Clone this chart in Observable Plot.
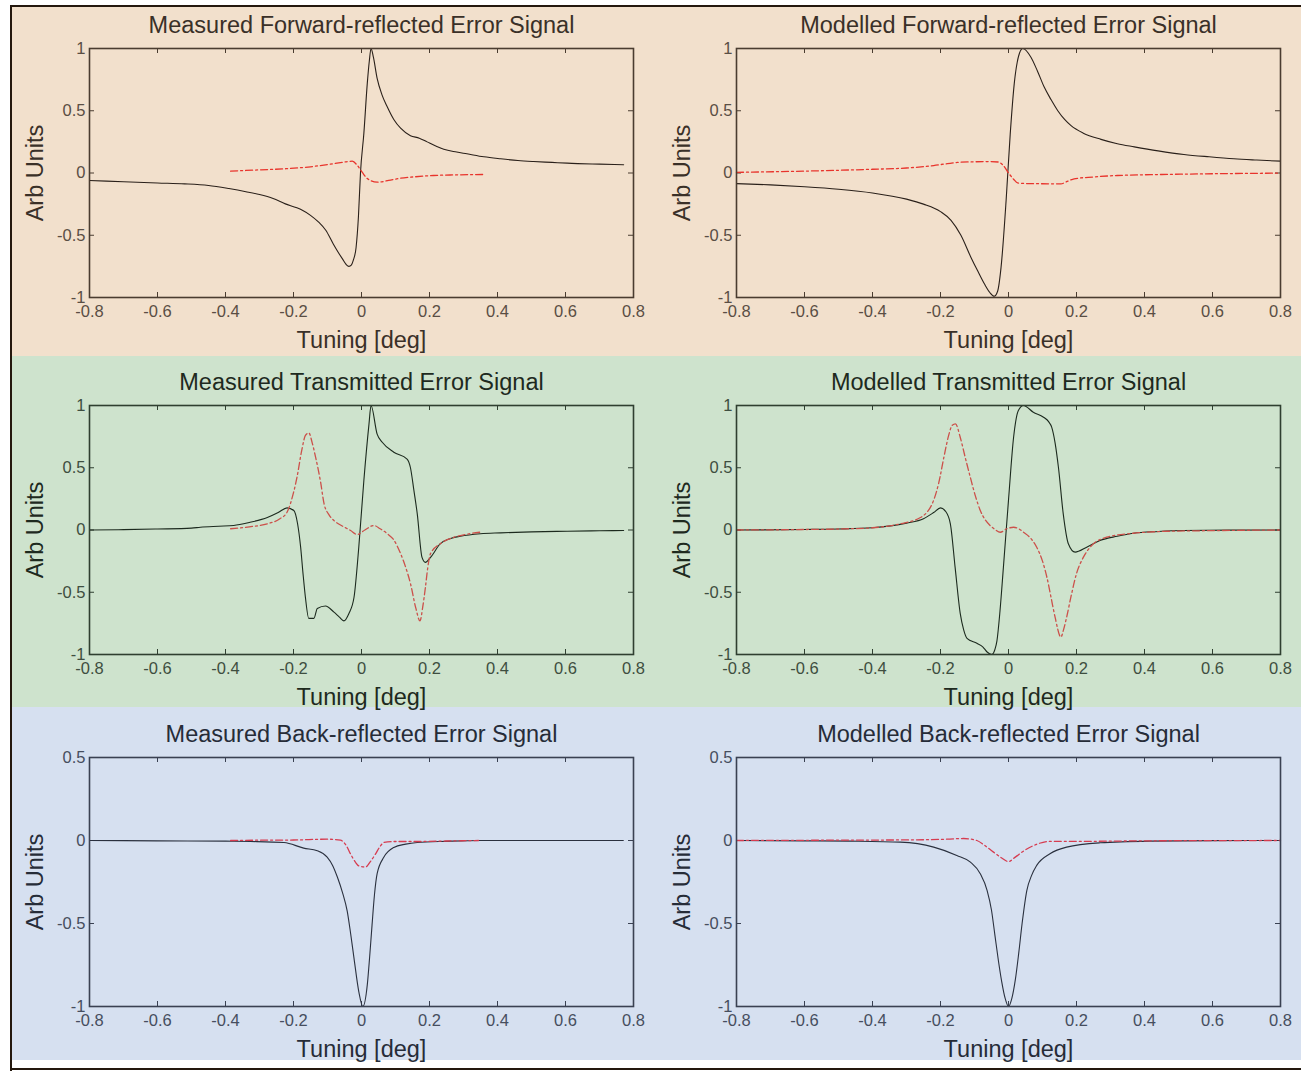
<!DOCTYPE html>
<html><head><meta charset="utf-8">
<script src="https://cdn.jsdelivr.net/npm/d3@7"></script>
<script src="https://cdn.jsdelivr.net/npm/@observablehq/plot@0.6"></script>
<style>
body{margin:0;background:#fff;}
#fig{position:relative;width:1301px;height:1072px;overflow:hidden;background:#fff;font-family:"Liberation Sans",Arial,sans-serif;}
.band{position:absolute;left:12px;right:0;}
.line{position:absolute;background:#24180e;}
.panel{position:absolute;}
</style></head><body><div id="fig"></div>
<script>
// ---- tick labels ----
const xTicks = [-0.8, -0.6, -0.4, -0.2, 0, 0.2, 0.4, 0.6, 0.8];
const yTicksFull = [-1, -0.5, 0, 0.5, 1];
const yTicksBack = [-1, -0.5, 0, 0.5];

// ---- titles ----
const titles = [
  "Measured Forward-reflected Error Signal", "Modelled Forward-reflected Error Signal",
  "Measured Transmitted Error Signal", "Modelled Transmitted Error Signal",
  "Measured Back-reflected Error Signal", "Modelled Back-reflected Error Signal"
];
const xLabel = "Tuning [deg]";
const yLabel = "Arb Units";

// ---- series: [tuning, value] ----
const measFwdSig = [[-0.8,-0.06],[-0.7,-0.07],[-0.6,-0.08],[-0.52,-0.087],[-0.45,-0.1],[-0.39,-0.125],[-0.34,-0.15],[-0.3,-0.173],[-0.26,-0.205],[-0.224,-0.248],[-0.19,-0.28],[-0.174,-0.3],[-0.15,-0.34],[-0.126,-0.395],[-0.105,-0.46],[-0.083,-0.57],[-0.07,-0.63],[-0.056,-0.69],[-0.045,-0.735],[-0.037,-0.75],[-0.03,-0.74],[-0.024,-0.7],[-0.016,-0.6],[-0.009,-0.35],[-0.003,0.0],[0.007,0.32],[0.017,0.72],[0.023,0.9],[0.028,1.0],[0.035,0.93],[0.046,0.76],[0.06,0.63],[0.076,0.53],[0.095,0.43],[0.115,0.36],[0.144,0.3],[0.17,0.28],[0.193,0.25],[0.22,0.215],[0.242,0.19],[0.28,0.168],[0.31,0.154],[0.36,0.13],[0.409,0.114],[0.46,0.1],[0.506,0.092],[0.56,0.085],[0.605,0.079],[0.7,0.071],[0.771,0.066]];
const measFwdRef = [[-0.385,0.015],[-0.3,0.025],[-0.224,0.034],[-0.15,0.05],[-0.08,0.076],[-0.045,0.09],[-0.027,0.095],[-0.012,0.06],[0.002,0.007],[0.015,-0.04],[0.026,-0.06],[0.046,-0.074],[0.08,-0.06],[0.115,-0.042],[0.159,-0.03],[0.212,-0.02],[0.28,-0.015],[0.36,-0.012]];
const modFwdSig = [[-0.8,-0.085],[-0.7,-0.095],[-0.6,-0.11],[-0.5,-0.13],[-0.4,-0.16],[-0.3,-0.21],[-0.25,-0.25],[-0.2,-0.31],[-0.169,-0.38],[-0.14,-0.5],[-0.11,-0.68],[-0.09,-0.79],[-0.071,-0.89],[-0.055,-0.96],[-0.042,-0.99],[-0.032,-0.95],[-0.022,-0.76],[-0.007,-0.22],[0.005,0.31],[0.017,0.72],[0.032,0.96],[0.042,1.0],[0.066,0.93],[0.085,0.82],[0.105,0.69],[0.125,0.59],[0.145,0.5],[0.165,0.43],[0.184,0.38],[0.22,0.32],[0.272,0.27],[0.32,0.235],[0.37,0.21],[0.44,0.178],[0.516,0.149],[0.59,0.13],[0.663,0.114],[0.73,0.104],[0.8,0.095]];
const modFwdRef = [[-0.8,0.005],[-0.6,0.015],[-0.4,0.03],[-0.3,0.04],[-0.22,0.06],[-0.18,0.075],[-0.15,0.085],[-0.1,0.09],[-0.051,0.092],[-0.03,0.088],[-0.015,0.06],[0.002,-0.007],[0.015,-0.05],[0.027,-0.08],[0.06,-0.085],[0.154,-0.087],[0.175,-0.065],[0.193,-0.047],[0.25,-0.032],[0.32,-0.02],[0.45,-0.012],[0.6,-0.006],[0.8,-0.001]];
const measTrSig = [[-0.8,0.0],[-0.7,0.003],[-0.6,0.008],[-0.5,0.015],[-0.474,0.022],[-0.42,0.03],[-0.376,0.036],[-0.33,0.06],[-0.277,0.1],[-0.245,0.14],[-0.219,0.178],[-0.199,0.157],[-0.188,0.05],[-0.179,-0.138],[-0.172,-0.35],[-0.165,-0.54],[-0.155,-0.71],[-0.14,-0.71],[-0.13,-0.63],[-0.106,-0.61],[-0.081,-0.66],[-0.065,-0.7],[-0.052,-0.73],[-0.037,-0.67],[-0.022,-0.54],[-0.008,-0.138],[0.007,0.4],[0.022,0.85],[0.028,1.0],[0.046,0.77],[0.061,0.705],[0.095,0.625],[0.134,0.57],[0.144,0.5],[0.154,0.32],[0.164,0.13],[0.178,-0.22],[0.188,-0.26],[0.203,-0.22],[0.232,-0.11],[0.26,-0.07],[0.291,-0.05],[0.35,-0.03],[0.409,-0.023],[0.5,-0.015],[0.605,-0.01],[0.7,-0.006],[0.771,-0.004]];
const measTrRef = [[-0.385,0.01],[-0.33,0.025],[-0.277,0.05],[-0.24,0.09],[-0.219,0.143],[-0.2,0.3],[-0.19,0.42],[-0.175,0.65],[-0.165,0.76],[-0.155,0.78],[-0.145,0.7],[-0.135,0.585],[-0.12,0.38],[-0.11,0.21],[-0.095,0.12],[-0.081,0.076],[-0.055,0.03],[-0.032,-0.004],[-0.013,-0.036],[0.01,0.0],[0.036,0.036],[0.055,0.01],[0.076,-0.03],[0.095,-0.08],[0.115,-0.19],[0.13,-0.3],[0.144,-0.43],[0.16,-0.63],[0.172,-0.73],[0.18,-0.62],[0.188,-0.46],[0.195,-0.3],[0.203,-0.19],[0.232,-0.11],[0.26,-0.07],[0.291,-0.045],[0.35,-0.017]];
const modTrSig = [[-0.8,0.0],[-0.6,0.004],[-0.5,0.008],[-0.4,0.018],[-0.3,0.055],[-0.25,0.09],[-0.22,0.14],[-0.2,0.178],[-0.185,0.15],[-0.171,0.05],[-0.157,-0.3],[-0.142,-0.67],[-0.132,-0.8],[-0.122,-0.87],[-0.093,-0.91],[-0.075,-0.94],[-0.063,-0.98],[-0.049,-1.0],[-0.04,-0.96],[-0.034,-0.89],[-0.025,-0.65],[-0.015,-0.3],[0.0,0.24],[0.015,0.745],[0.029,0.96],[0.044,1.0],[0.073,0.946],[0.103,0.906],[0.118,0.87],[0.127,0.826],[0.137,0.7],[0.147,0.5],[0.161,0.13],[0.176,-0.11],[0.196,-0.178],[0.23,-0.138],[0.269,-0.084],[0.32,-0.05],[0.367,-0.026],[0.44,-0.012],[0.514,-0.004],[0.65,-0.001],[0.8,0.0]];
const modTrRef = [[-0.8,0.0],[-0.6,0.004],[-0.5,0.008],[-0.4,0.018],[-0.318,0.05],[-0.259,0.1],[-0.22,0.24],[-0.205,0.38],[-0.19,0.585],[-0.175,0.77],[-0.166,0.84],[-0.156,0.853],[-0.142,0.745],[-0.127,0.58],[-0.112,0.42],[-0.097,0.27],[-0.083,0.157],[-0.068,0.08],[-0.054,0.036],[-0.04,0.005],[-0.024,-0.018],[-0.005,0.01],[0.015,0.022],[0.03,0.01],[0.044,-0.018],[0.063,-0.06],[0.083,-0.138],[0.1,-0.25],[0.113,-0.38],[0.125,-0.54],[0.137,-0.7],[0.154,-0.86],[0.162,-0.8],[0.171,-0.7],[0.185,-0.52],[0.2,-0.35],[0.22,-0.22],[0.24,-0.138],[0.289,-0.058],[0.367,-0.026],[0.45,-0.012],[0.6,-0.005],[0.8,0.0]];
const measBkSig = [[-0.8,0.0],[-0.6,-0.002],[-0.4,-0.004],[-0.326,-0.006],[-0.228,-0.012],[-0.17,-0.046],[-0.13,-0.062],[-0.101,-0.1],[-0.085,-0.15],[-0.071,-0.22],[-0.055,-0.32],[-0.042,-0.425],[-0.032,-0.56],[-0.022,-0.71],[-0.008,-0.91],[0.004,-1.0],[0.017,-0.87],[0.024,-0.7],[0.031,-0.51],[0.038,-0.33],[0.046,-0.2],[0.066,-0.1],[0.095,-0.042],[0.13,-0.022],[0.164,-0.012],[0.25,-0.005],[0.35,0.0],[0.5,0.0],[0.65,0.0],[0.77,0.0]];
const measBkRef = [[-0.385,0.0],[-0.3,0.002],[-0.2,0.003],[-0.1,0.008],[-0.062,0.002],[-0.045,-0.03],[-0.032,-0.082],[-0.018,-0.13],[-0.008,-0.153],[0.012,-0.16],[0.025,-0.13],[0.041,-0.082],[0.055,-0.035],[0.066,-0.012],[0.1,-0.006],[0.164,-0.006],[0.25,-0.003],[0.344,0.0]];
const modBkSig = [[-0.8,0.0],[-0.6,-0.002],[-0.465,-0.004],[-0.318,-0.01],[-0.22,-0.04],[-0.152,-0.09],[-0.112,-0.13],[-0.083,-0.2],[-0.063,-0.3],[-0.05,-0.42],[-0.04,-0.57],[-0.03,-0.72],[-0.02,-0.85],[-0.01,-0.95],[0.0,-1.0],[0.01,-0.95],[0.02,-0.84],[0.03,-0.68],[0.04,-0.5],[0.054,-0.3],[0.068,-0.21],[0.083,-0.15],[0.122,-0.08],[0.171,-0.04],[0.269,-0.014],[0.416,-0.004],[0.6,-0.001],[0.8,0.0]];
const modBkRef = [[-0.8,0.0],[-0.5,0.002],[-0.269,0.004],[-0.18,0.008],[-0.132,0.012],[-0.093,0.0],[-0.07,-0.03],[-0.044,-0.07],[-0.02,-0.105],[0.0,-0.127],[0.02,-0.1],[0.044,-0.064],[0.08,-0.025],[0.122,-0.005],[0.22,-0.005],[0.4,-0.002],[0.8,0.0]];

// ---- row styling ----
const rows = [
  {top: 7, height: 349, bg: "#f2e0cc", frame: "#4a3c30", text: "#3a3028", tick: "#5a4e44", sig: "#2a201a", ref: "#e8342c", mt: 41, yDomain: [-1, 1], yTicks: yTicksFull},
  {top: 356, height: 351, bg: "#cee3cd", frame: "#2f3f30", text: "#1e2a1e", tick: "#3e4e40", sig: "#1c2a1e", ref: "#cc504a", mt: 49, yDomain: [-1, 1], yTicks: yTicksFull},
  {top: 707, height: 353, bg: "#d6e0f0", frame: "#3a4152", text: "#262c38", tick: "#464e5e", sig: "#2a303e", ref: "#d63c50", mt: 50, yDomain: [-1, 0.5], yTicks: yTicksBack}
];
const series = [[measFwdSig, measFwdRef, modFwdSig, modFwdRef],[measTrSig, measTrRef, modTrSig, modTrRef],[measBkSig, measBkRef, modBkSig, modBkRef]];

const fig = document.getElementById("fig");
function addDiv(cls, st) { const d = document.createElement("div"); d.className = cls; Object.assign(d.style, st); fig.appendChild(d); return d; }

rows.forEach(r => addDiv("band", {top: r.top + "px", height: r.height + "px", background: r.bg}));
addDiv("line", {left: "10px", top: "5px", width: "1291px", height: "2px"});
addDiv("line", {left: "10px", top: "5px", width: "2px", height: "1066px"});
addDiv("line", {left: "10px", top: "1068px", width: "1291px", height: "2px"});

const cols = [{left: 0, width: 650, ml: 89, mr: 17}, {left: 650, width: 651, ml: 86, mr: 21}];
const fmt = d => String(d);

rows.forEach((r, ri) => {
  cols.forEach((c, ci) => {
    const H = 249, W = c.width - c.ml - c.mr;
    const mb = r.height - r.mt - H;
    const sig = series[ri][ci * 2], ref = series[ri][ci * 2 + 1];
    const plot = Plot.plot({
      width: c.width, height: r.height,
      marginTop: r.mt, marginBottom: mb, marginLeft: c.ml, marginRight: c.mr,
      style: {background: "transparent", fontFamily: "Liberation Sans, Arial, sans-serif", overflow: "visible"},
      x: {domain: [-0.8, 0.8]},
      y: {domain: r.yDomain},
      marks: [
        Plot.axisX({ticks: xTicks, tickSize: 0, tickPadding: 8, tickFormat: fmt, label: null, fontSize: 16.5, fill: r.tick}),
        Plot.axisY({ticks: r.yTicks, tickSize: 0, tickPadding: 4, tickFormat: fmt, label: null, fontSize: 16.5, fill: r.tick}),
        Plot.tickX(xTicks, {x: d => d, insetTop: H - 5, stroke: r.frame, strokeWidth: 1}),
        Plot.tickX(xTicks, {x: d => d, insetBottom: H - 5, stroke: r.frame, strokeWidth: 1}),
        Plot.tickY(r.yTicks, {y: d => d, insetRight: W - 5, stroke: r.frame, strokeWidth: 1}),
        Plot.tickY(r.yTicks, {y: d => d, insetLeft: W - 5, stroke: r.frame, strokeWidth: 1}),
        Plot.line(sig, {x: d => d[0], y: d => d[1], stroke: r.sig, strokeWidth: 1.1, curve: "monotone-x"}),
        Plot.line(ref, {x: d => d[0], y: d => d[1], stroke: r.ref, strokeWidth: 1.3, strokeDasharray: "7,3,2,3", curve: "monotone-x"}),
        Plot.frame({stroke: r.frame, strokeWidth: 1.6}),
        Plot.text([titles[ri * 2 + ci]], {frameAnchor: "top", lineAnchor: "middle", textAnchor: "middle", dy: -23, fontSize: 23.5, fill: r.text}),
        Plot.text([xLabel], {frameAnchor: "bottom", lineAnchor: "middle", textAnchor: "middle", dy: 43, fontSize: 23.5, fill: r.text}),
        Plot.text([yLabel], {frameAnchor: "left", lineAnchor: "middle", textAnchor: "middle", dx: -54, rotate: -90, fontSize: 23.5, fill: r.text})
      ]
    });
    plot.classList.add("panel");
    plot.style.left = c.left + "px";
    plot.style.top = r.top + "px";
    fig.appendChild(plot);
  });
});
</script>
</body></html>
